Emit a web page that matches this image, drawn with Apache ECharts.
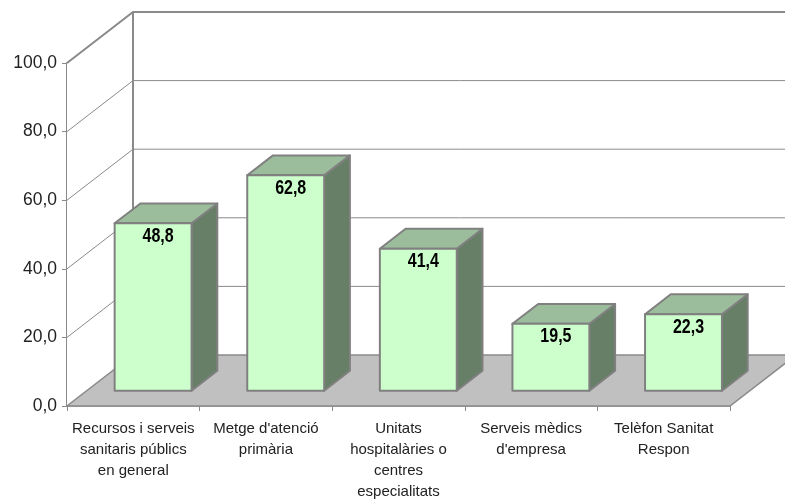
<!DOCTYPE html>
<html>
<head>
<meta charset="utf-8">
<script src="https://cdn.jsdelivr.net/npm/echarts@6/dist/echarts.min.js"></script>
<style>
  html, body { margin: 0; padding: 0; background: #fff; }
  #chart { width: 785px; height: 502px; }
</style>
</head>
<body>
<div id="chart"></div>
<script>
// Categories and values
const categories = [
  "Recursos i serveis\nsanitaris públics\nen general",
  "Metge d'atenció\nprimària",
  "Unitats\nhospitalàries o\ncentres\nespecialitats",
  "Serveis mèdics\nd'empresa",
  "Telèfon Sanitat\nRespon"
];
const values = [48.8, 62.8, 41.4, 19.5, 22.3];
const yTicks = [0, 20, 40, 60, 80, 100];

// Oblique projection of the depth axis (pixels for the full depth)
const DEPTH_X = 66, DEPTH_Y = -51;
const BAR_FRONT = 0.30;   // depth fraction of the bar front face
const BAR_DEPTH = 0.39;   // depth fraction occupied by the bar
const BAR_WIDTH = 0.58;   // fraction of the category band

const LINE = '#8a8a8a';
const fmt = v => v.toFixed(1).replace('.', ',');

const chart = echarts.init(document.getElementById('chart'), null, { renderer: 'canvas' });

function renderFrame(params, api) {
  const cs = params.coordSys;
  const x0 = cs.x, x1 = cs.x + cs.width;
  const yBase = api.coord([0, 0])[1];
  const yTop = api.coord([0, 100])[1];
  const children = [];
  // back wall
  children.push({
    type: 'polygon',
    shape: { points: [[x0, yBase], [x0, yTop], [x0 + DEPTH_X, yTop + DEPTH_Y], [x1 + DEPTH_X, yTop + DEPTH_Y], [x1 + DEPTH_X, yBase + DEPTH_Y], [x0 + DEPTH_X, yBase + DEPTH_Y]] },
    style: { fill: '#fff', stroke: null }
  });
  // gridlines on side and back walls
  yTicks.forEach(t => {
    if (t === 0) return;
    const y = api.coord([0, t])[1];
    const thick = t === 100;
    children.push({
      type: 'polyline',
      shape: { points: [[x0, y], [x0 + DEPTH_X, y + DEPTH_Y], [x1 + DEPTH_X, y + DEPTH_Y]] },
      style: { fill: null, stroke: LINE, lineWidth: thick ? 2 : 1 }
    });
  });
  // back wall left edge
  children.push({
    type: 'line',
    shape: { x1: x0 + DEPTH_X, y1: yTop + DEPTH_Y, x2: x0 + DEPTH_X, y2: yBase + DEPTH_Y },
    style: { stroke: LINE, lineWidth: 2 }
  });
  // floor
  children.push({
    type: 'polygon',
    shape: { points: [[x0, yBase], [x1, yBase], [x1 + DEPTH_X, yBase + DEPTH_Y], [x0 + DEPTH_X, yBase + DEPTH_Y]] },
    style: { fill: '#c0c0c0', stroke: LINE, lineWidth: 1.5 }
  });
  return { type: 'group', children };
}

function renderBar(params, api) {
  const i = api.value(0), v = api.value(1);
  const base = api.coord([i, 0]);
  const top = api.coord([i, v]);
  const band = api.size([1, 0])[0];
  const w = band * BAR_WIDTH;
  const fx = DEPTH_X * BAR_FRONT, fy = DEPTH_Y * BAR_FRONT;
  const bx = DEPTH_X * BAR_DEPTH, by = DEPTH_Y * BAR_DEPTH;
  const xl = base[0] - w / 2 + fx, xr = base[0] + w / 2 + fx;
  const yb = base[1] + fy, yt = top[1] + fy;
  const border = { stroke: '#808080', lineWidth: 2, lineJoin: 'round' };
  return {
    type: 'group',
    children: [
      { type: 'polygon', shape: { points: [[xr, yt], [xr, yb], [xr + bx, yb + by], [xr + bx, yt + by]] },
        style: Object.assign({ fill: '#667f66' }, border) },
      { type: 'polygon', shape: { points: [[xl, yt], [xr, yt], [xr + bx, yt + by], [xl + bx, yt + by]] },
        style: Object.assign({ fill: '#9bbd9b' }, border) },
      { type: 'rect', shape: { x: xl, y: yt, width: xr - xl, height: yb - yt },
        style: Object.assign({ fill: '#ccffcc' }, border) },
      // condensed value label
      { type: 'text', x: (xl + xr) / 2 + 5, y: yt + 13, scaleX: 0.8,
        style: { text: fmt(v), textAlign: 'center', textVerticalAlign: 'middle',
          font: 'bold 20px "Liberation Sans", Arial, sans-serif', fill: '#000' } }
    ]
  };
}

chart.setOption({
  animation: false,
  grid: { left: 67, right: 55, top: 63, bottom: 95 },
  xAxis: {
    type: 'category',
    data: categories,
    boundaryGap: true,
    axisLine: { lineStyle: { color: LINE, width: 1.5 } },
    axisTick: { show: true, length: 5, lineStyle: { color: LINE } },
    axisLabel: {
      interval: 0, margin: 12, lineHeight: 21,
      fontFamily: '"Liberation Sans", Arial, sans-serif', fontSize: 15, color: '#222'
    },
    splitLine: { show: false }
  },
  yAxis: {
    type: 'value', min: 0, max: 100, interval: 20,
    axisLine: { show: true, lineStyle: { color: LINE, width: 2 } },
    axisTick: { show: true, length: 5, lineStyle: { color: LINE } },
    axisLabel: {
      formatter: fmt, margin: 10,
      fontFamily: '"Liberation Sans", Arial, sans-serif', fontSize: 17.5, color: '#222'
    },
    splitLine: { show: false }
  },
  series: [
    { type: 'custom', silent: true, z: 1, renderItem: renderFrame, data: [[0, 0]] },
    { type: 'custom', silent: true, z: 3, renderItem: renderBar,
      data: values.map((v, i) => [i, v]) }
  ]
});
</script>
</body>
</html>
